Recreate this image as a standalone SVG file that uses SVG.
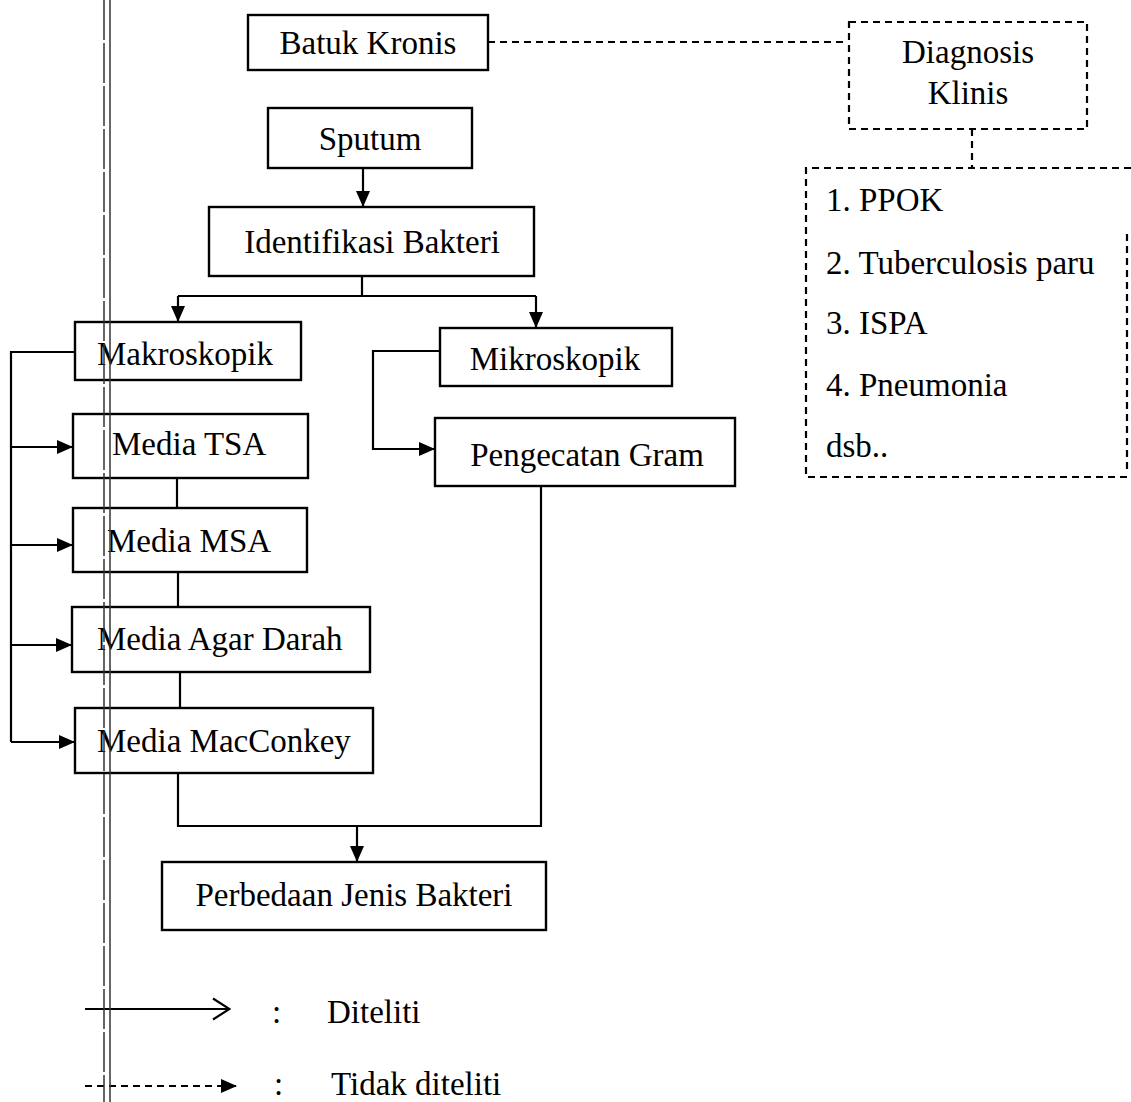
<svg xmlns="http://www.w3.org/2000/svg" width="1131" height="1102" viewBox="0 0 1131 1102">
<defs>
<style>
.box{fill:#fff;stroke:#000;stroke-width:2.4}
.dbox{fill:none;stroke:#000;stroke-width:2.2;stroke-dasharray:7,5}
.t{font-family:"Liberation Serif","Times New Roman",serif;font-size:33px;fill:#000}
.ln{fill:none;stroke:#000;stroke-width:2.2}
.dl{fill:none;stroke:#000;stroke-width:2.2;stroke-dasharray:7,5}
.scan{stroke:#333;stroke-width:1.5;fill:none}
</style>
<marker id="ah" viewBox="0 0 16 14" refX="16" refY="7" markerWidth="16" markerHeight="14" markerUnits="userSpaceOnUse" orient="auto">
<path d="M0,0 L16,7 L0,14 z" fill="#000"/>
</marker>
<marker id="oh" viewBox="0 0 20 24" refX="19" refY="12" markerWidth="20" markerHeight="24" markerUnits="userSpaceOnUse" orient="auto">
<path d="M2,1.5 L18.5,12 L2,22.5" fill="none" stroke="#000" stroke-width="2.2"/>
</marker>
</defs>
<rect width="1131" height="1102" fill="#fff"/>

<g id="connectors">
<path class="dl" d="M488,42 H848"/>
<path class="dl" d="M972,129 V168"/>
<path class="ln" d="M363,168 V207" marker-end="url(#ah)"/>
<path class="ln" d="M362,276 V296"/>
<path class="ln" d="M178,296 H536"/>
<path class="ln" d="M178,296 V322" marker-end="url(#ah)"/>
<path class="ln" d="M536,296 V328" marker-end="url(#ah)"/>
<path class="ln" d="M75,352 H11 V742"/>
<path class="ln" d="M11,447 H73" marker-end="url(#ah)"/>
<path class="ln" d="M11,545 H73" marker-end="url(#ah)"/>
<path class="ln" d="M11,645 H72" marker-end="url(#ah)"/>
<path class="ln" d="M11,742 H75" marker-end="url(#ah)"/>
<path class="ln" d="M177,478 V508"/>
<path class="ln" d="M178,572 V607"/>
<path class="ln" d="M180,672 V708"/>
<path class="ln" d="M178,773 V826 H541 V486"/>
<path class="ln" d="M357,826 V862" marker-end="url(#ah)"/>
<path class="ln" d="M440,351 H373 V449 H435" marker-end="url(#ah)"/>
</g>

<g id="batuk-kronis"><rect class="box" x="248" y="15" width="240" height="55"/><text class="t" x="368" y="54" text-anchor="middle">Batuk Kronis</text></g>
<g id="diagnosis-klinis"><rect class="dbox" x="849" y="22" width="238" height="107"/><text class="t" x="968" y="63" text-anchor="middle">Diagnosis</text><text class="t" x="968" y="104" text-anchor="middle">Klinis</text></g>
<g id="daftar-diagnosis"><path class="dl" d="M1131,168 H806 V477 H1131"/><path class="dl" d="M1127,234 V472"/>
<text class="t" x="826" y="211">1. PPOK</text>
<text class="t" x="826" y="274">2. Tuberculosis paru</text>
<text class="t" x="826" y="334">3. ISPA</text>
<text class="t" x="826" y="396">4. Pneumonia</text>
<text class="t" x="826" y="457">dsb..</text></g>
<g id="sputum"><rect class="box" x="268" y="108" width="204" height="60"/><text class="t" x="370" y="150" text-anchor="middle">Sputum</text></g>
<g id="identifikasi-bakteri"><rect class="box" x="209" y="207" width="325" height="69"/><text class="t" x="372" y="253" text-anchor="middle">Identifikasi Bakteri</text></g>
<g id="makroskopik"><rect class="box" x="75" y="322" width="226" height="58"/><text class="t" x="97" y="365">Makroskopik</text></g>
<g id="mikroskopik"><rect class="box" x="440" y="328" width="232" height="58"/><text class="t" x="555" y="370" text-anchor="middle">Mikroskopik</text></g>
<g id="media-tsa"><rect class="box" x="73" y="414" width="235" height="64"/><text class="t" x="112" y="455">Media TSA</text></g>
<g id="media-msa"><rect class="box" x="73" y="508" width="234" height="64"/><text class="t" x="107" y="552">Media MSA</text></g>
<g id="media-agar-darah"><rect class="box" x="72" y="607" width="298" height="65"/><text class="t" x="97" y="650">Media Agar Darah</text></g>
<g id="media-macconkey"><rect class="box" x="75" y="708" width="298" height="65"/><text class="t" x="97" y="752">Media MacConkey</text></g>
<g id="pengecatan-gram"><rect class="box" x="435" y="418" width="300" height="68"/><text class="t" x="587" y="466" text-anchor="middle">Pengecatan Gram</text></g>
<g id="perbedaan-jenis-bakteri"><rect class="box" x="162" y="862" width="384" height="68"/><text class="t" x="354" y="906" text-anchor="middle">Perbedaan Jenis Bakteri</text></g>

<g id="legend">
<path class="ln" d="M85,1009 H230" marker-end="url(#oh)"/>
<text class="t" x="272" y="1023">:</text>
<text class="t" x="327" y="1023">Diteliti</text>
<path class="dl" d="M85,1086 H237" marker-end="url(#ah)"/>
<text class="t" x="274" y="1095">:</text>
<text class="t" x="331" y="1095">Tidak diteliti</text>
</g>

<g id="scan-line">
<line class="scan" x1="104" y1="0" x2="104" y2="1102" stroke-dasharray="40,3"/>
<line class="scan" x1="110" y1="0" x2="110" y2="1102"/>
</g>
</svg>
